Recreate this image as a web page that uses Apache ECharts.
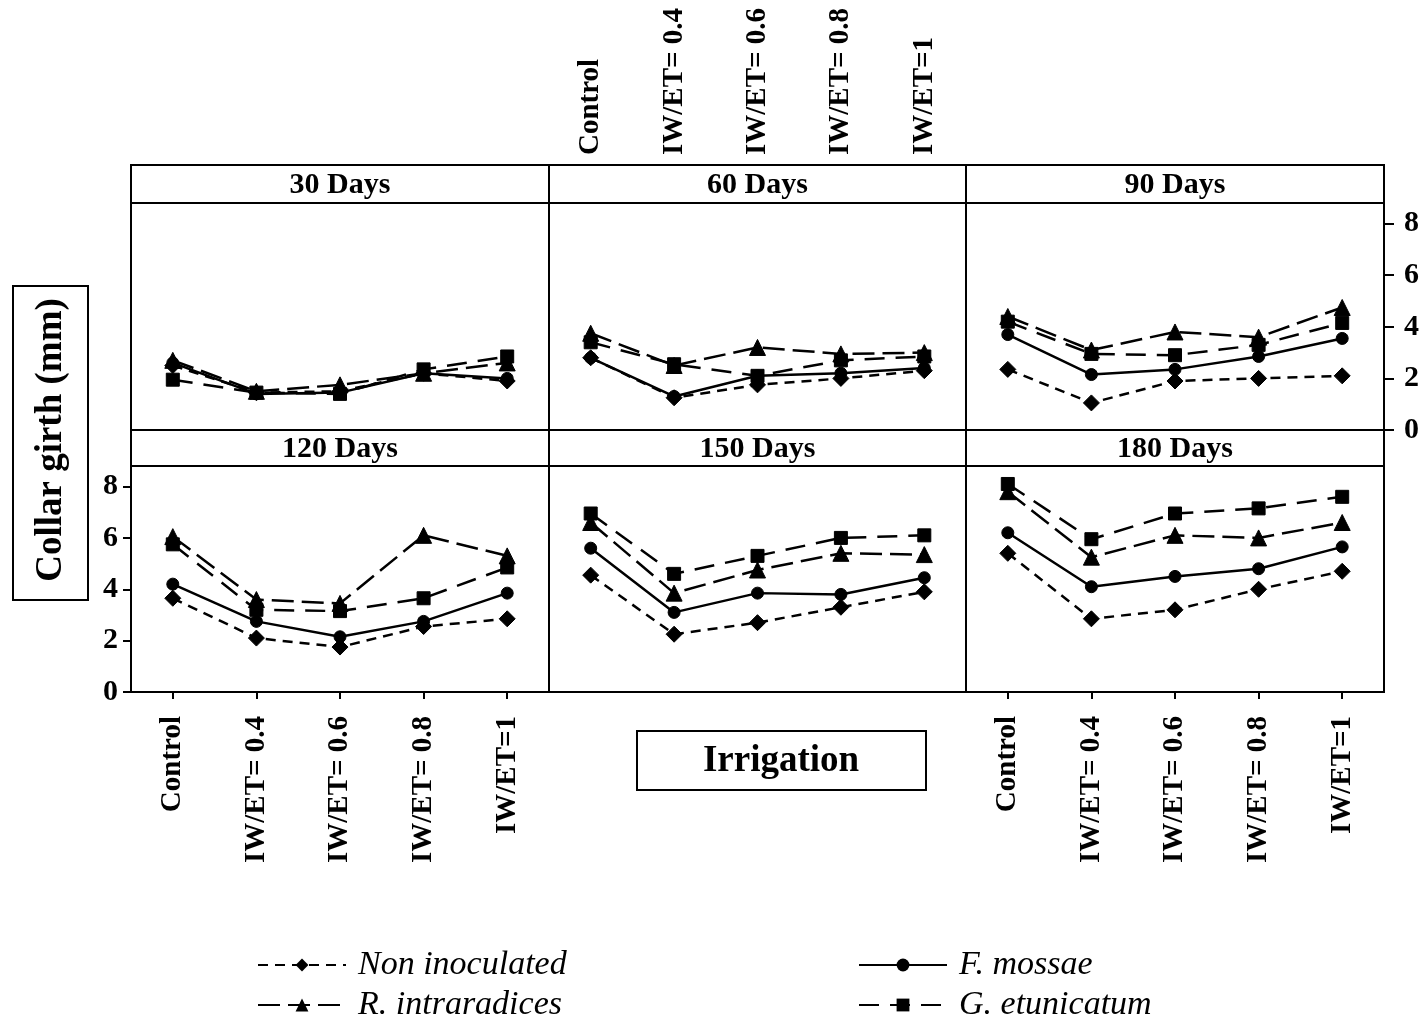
<!DOCTYPE html>
<html>
<head>
<meta charset="utf-8">
<script src="https://cdn.jsdelivr.net/npm/echarts@6/dist/echarts.min.js"></script>
<style>
html,body{margin:0;padding:0;background:#fff;}
#chart{width:1425px;height:1024px;}
</style>
</head>
<body>
<div id="chart"></div>
<script>
// ---- data ----
const categories = ['Control', 'IW/ET= 0.4', 'IW/ET= 0.6', 'IW/ET= 0.8', 'IW/ET=1'];
const panelTitles = ['30 Days', '60 Days', '90 Days', '120 Days', '150 Days', '180 Days'];
const yTicks = [0, 2, 4, 6, 8];
const seriesNames = ['Non inoculated', 'R. intraradices', 'F. mossae', 'G. etunicatum'];
// one row per panel (30, 60, 90, 120, 150, 180 days)
const nonInoculated = [
  [2.5, 1.45, 1.5, 2.2, 1.9],
  [2.8, 1.25, 1.75, 2.0, 2.3],
  [2.35, 1.05, 1.9, 2.0, 2.1],
  [3.65, 2.1, 1.75, 2.55, 2.85],
  [4.55, 2.25, 2.7, 3.3, 3.9],
  [5.4, 2.85, 3.2, 4.0, 4.7]
];
const rIntraradices = [
  [2.7, 1.5, 1.75, 2.2, 2.6],
  [3.75, 2.5, 3.2, 2.95, 3.0],
  [4.4, 3.1, 3.8, 3.6, 4.75],
  [6.05, 3.6, 3.45, 6.1, 5.3],
  [6.6, 3.85, 4.75, 5.4, 5.35],
  [7.8, 5.25, 6.1, 6.0, 6.6]
];
const fMossae = [
  [2.6, 1.4, 1.45, 2.2, 2.0],
  [2.8, 1.3, 2.1, 2.2, 2.4],
  [3.7, 2.15, 2.35, 2.85, 3.55],
  [4.2, 2.75, 2.15, 2.75, 3.85],
  [5.6, 3.1, 3.85, 3.8, 4.45],
  [6.2, 4.1, 4.5, 4.8, 5.65]
];
const gEtunicatum = [
  [1.95, 1.45, 1.4, 2.35, 2.85],
  [3.4, 2.55, 2.1, 2.7, 2.85],
  [4.2, 2.95, 2.9, 3.3, 4.15],
  [5.75, 3.2, 3.15, 3.65, 4.85],
  [6.95, 4.6, 5.3, 6.0, 6.1],
  [8.1, 5.95, 6.95, 7.15, 7.6]
];

// ---- layout ----
const cols = [[131, 549], [549, 966], [966, 1384]];
const rows = [{hTop: 165, gTop: 203, gBot: 430}, {hTop: 430, gTop: 466, gBot: 692}];
const FONT = '"Liberation Serif", "Times New Roman", serif';
const tickLabelStyle = {color: '#000', fontFamily: FONT, fontWeight: 'bold', fontSize: 29};

const grids = [], xAxes = [], yAxes = [], graphics = [];
for (let i = 0; i < 6; i++) {
  const c = cols[i % 3], r = rows[Math.floor(i / 3)];
  grids.push({left: c[0], top: r.gTop, width: c[1] - c[0], height: r.gBot - r.gTop,
    show: true, borderColor: '#000', borderWidth: 2, backgroundColor: 'transparent'});
  // header strip
  graphics.push({type: 'rect', shape: {x: c[0], y: r.hTop, width: c[1] - c[0], height: r.gTop - r.hTop},
    style: {fill: '#fff', stroke: '#000', lineWidth: 2}, z: 1});
  graphics.push({type: 'text', x: (c[0] + c[1]) / 2, y: (r.hTop + r.gTop) / 2 + 1,
    style: {text: panelTitles[i], font: 'bold 30px ' + FONT, fill: '#000',
      align: 'center', verticalAlign: 'middle', textAlign: 'center', textVerticalAlign: 'middle'}, z: 2});

  const showBottom = (i === 3 || i === 5);
  const xa = {type: 'category', gridIndex: i, data: categories, boundaryGap: true,
    axisLine: {show: false}, splitLine: {show: false},
    axisTick: {show: false}, axisLabel: {show: false}};
  if (showBottom) {
    xa.axisTick = {show: true, length: 7, alignWithLabel: true, lineStyle: {color: '#000', width: 2}};
    xa.axisLabel = Object.assign({show: true, rotate: 90, interval: 0, margin: 24}, tickLabelStyle);
  }
  xAxes.push(xa);

  const ya = {type: 'value', gridIndex: i, min: 0, max: 8.8, interval: 2,
    axisLine: {show: false}, splitLine: {show: false},
    axisTick: {show: false}, axisLabel: {show: false}};
  if (i === 3 || i === 2) {
    ya.position = (i === 3) ? 'left' : 'right';
    ya.axisTick = {show: true, length: (i === 3) ? 8 : 10, customValues: yTicks, lineStyle: {color: '#000', width: 2}};
    ya.axisLabel = Object.assign({show: true, customValues: yTicks, margin: (i === 3) ? 13 : 20}, tickLabelStyle, {fontSize: 30});
  }
  yAxes.push(ya);
}
// extra grid over the 60 Days header strip to carry the top category axis
grids.push({left: cols[1][0], top: rows[0].hTop, width: cols[1][1] - cols[1][0], height: rows[0].gTop - rows[0].hTop, show: false});
xAxes.push({type: 'category', gridIndex: 6, data: categories, boundaryGap: true, position: 'top',
  axisLine: {show: false}, splitLine: {show: false},
  axisTick: {show: true, length: 7, alignWithLabel: true, lineStyle: {color: '#000', width: 2}},
  axisLabel: Object.assign({show: true, rotate: 90, interval: 0, margin: 10}, tickLabelStyle)});
yAxes.push({type: 'value', gridIndex: 6, min: 0, max: 1, show: false});

// axis title boxes
graphics.push({type: 'rect', shape: {x: 13, y: 286, width: 75, height: 314},
  style: {fill: '#fff', stroke: '#000', lineWidth: 2}});
graphics.push({type: 'text', x: 51, y: 440, rotation: Math.PI / 2,
  style: {text: 'Collar girth (mm)', font: 'bold 37px ' + FONT, fill: '#000',
    align: 'center', verticalAlign: 'middle', textAlign: 'center', textVerticalAlign: 'middle'}});
graphics.push({type: 'rect', shape: {x: 637, y: 731, width: 289, height: 59},
  style: {fill: '#fff', stroke: '#000', lineWidth: 2}});
graphics.push({type: 'text', x: 781, y: 761,
  style: {text: 'Irrigation', font: 'bold 37px ' + FONT, fill: '#000',
    align: 'center', verticalAlign: 'middle', textAlign: 'center', textVerticalAlign: 'middle'}});

// series styles
const styles = [
  {data: nonInoculated, symbol: 'diamond', size: 16, dash: [10, 7]},
  {data: rIntraradices, symbol: 'triangle', size: 16, dash: [22, 8]},
  {data: fMossae, symbol: 'circle', size: 12, dash: 'solid'},
  {data: gEtunicatum, symbol: 'rect', size: 13, dash: [20, 11]}
];
const series = [];
for (let i = 0; i < 6; i++) {
  styles.forEach((s, k) => {
    series.push({name: seriesNames[k], type: 'line', xAxisIndex: i, yAxisIndex: i,
      data: s.data[i], symbol: s.symbol, symbolSize: s.size, showSymbol: true,
      lineStyle: {color: '#000', width: 2.5, type: s.dash},
      itemStyle: {color: '#000', borderColor: '#000'},
      emphasis: {disabled: true}, animation: false, z: 3});
  });
}

const legendText = {color: '#000', fontFamily: FONT, fontStyle: 'italic', fontSize: 34, lineHeight: 34,
  padding: [0, 0, 0, 7]};
const chart = echarts.init(document.getElementById('chart'));
chart.setOption({
  backgroundColor: '#fff',
  animation: false,
  grid: grids,
  xAxis: xAxes,
  yAxis: yAxes,
  graphic: graphics,
  legend: [
    {data: ['Non inoculated', 'R. intraradices'], orient: 'vertical', left: 257, top: 948,
      itemWidth: 88, itemHeight: 16, itemGap: 6, padding: 0, textStyle: legendText, selectedMode: false},
    {data: ['F. mossae', 'G. etunicatum'], orient: 'vertical', left: 858, top: 948,
      itemWidth: 88, itemHeight: 16, itemGap: 6, padding: 0, textStyle: legendText, selectedMode: false}
  ],
  series: series
});
</script>
</body>
</html>
